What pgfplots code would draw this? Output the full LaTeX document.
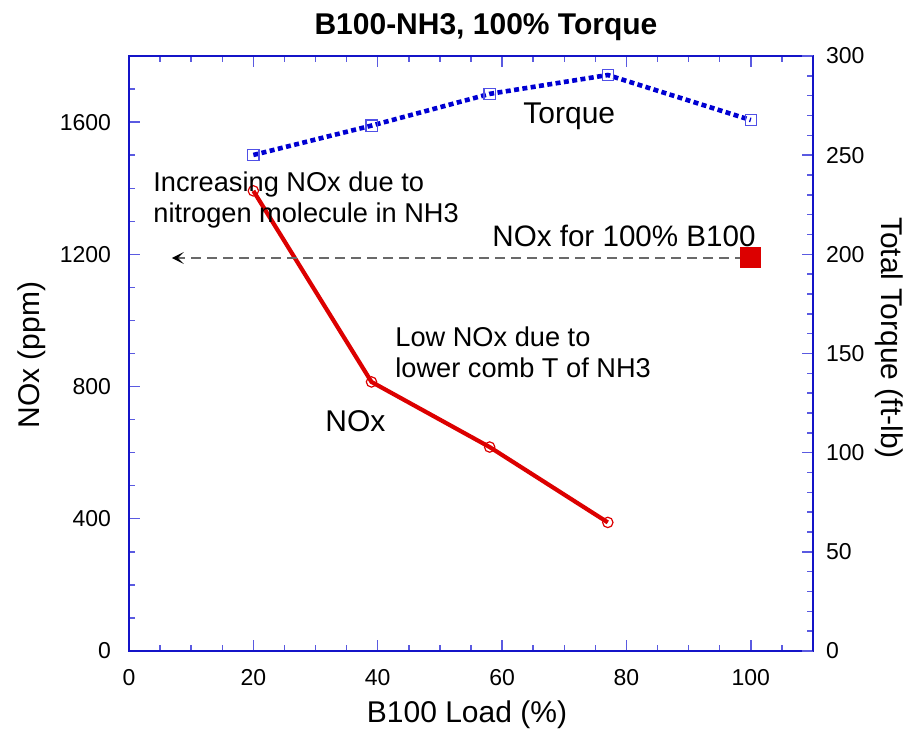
\documentclass[border=0pt]{standalone}
\usepackage{fontspec}
\setmainfont{Liberation Sans}
\usepackage{pgfplots}
\pgfplotsset{compat=1.18}
\usetikzlibrary{arrows.meta}

\definecolor{axisblue}{RGB}{20,20,200}
\definecolor{tickblue}{RGB}{90,90,225}
\definecolor{torqueblue}{RGB}{0,0,210}
\definecolor{markblue}{RGB}{80,80,230}
\definecolor{noxred}{RGB}{220,0,0}
\definecolor{arrowgray}{RGB}{105,105,105}

\pgfplotsset{
  base/.style={
    width=342pt, height=297.5pt, scale only axis,
    xmin=0, xmax=110,
    axis line style={axisblue, line width=0.7pt},
    tick align=inside,
    major tick length=5.5pt, minor tick length=2.8pt,
    tick style={tickblue, line width=0.7pt},
    ticklabel style={font=\fontsize{11.5}{13}\selectfont, text=black},
    /pgf/number format/assume math mode=true,
    /pgf/number format/1000 sep={},
    clip=false,
  }
}

\begin{document}
\begin{tikzpicture}
\useasboundingbox (-64.5pt,-38.5pt) rectangle (387.5pt,325.5pt);

% NOx, left axis
\begin{axis}[base,
  ymin=0, ymax=1800,
  xtick={0,20,...,100}, minor xtick={0,5,...,110},
  ytick={0,400,...,1600}, minor ytick={0,100,...,1800},
  xtick pos=both, ytick pos=left,
  xticklabel style={yshift=-5.5pt},
  yticklabel style={xshift=-5.5pt},
]
\addplot[noxred, line width=2.1pt, mark=o, mark size=2.6pt,
  mark options={line width=0.6pt}] coordinates {
  (20,1392) (39,814) (58,617) (77,389)
};
\addplot[noxred, only marks, mark=square*, mark size=5pt] coordinates {
  (100,1192)
};
\draw[arrowgray, line width=0.8pt, dash pattern=on 5pt off 3pt,
  -{Stealth[black, length=6pt, width=6pt, inset=3pt]}]
  (axis cs:99,1189) -- (axis cs:6.9,1189);
\end{axis}

% torque, right axis
\begin{axis}[base,
  ymin=0, ymax=300,
  hide x axis, axis y line*=right,
  ytick={0,50,...,300}, minor ytick={0,10,...,300},
  yticklabel style={xshift=3pt},
]
\addplot[torqueblue, line width=2.3pt, dash pattern=on 2.5pt off 1.7pt,
  mark=square, mark size=2.8pt,
  mark options={solid, markblue, line width=0.6pt}] coordinates {
  (20,250.1) (39,264.9) (58,280.9) (77,290.4) (100,267.7)
};
\end{axis}

% texts, placed in pixel units of the reference
\begin{scope}[x=0.5pt, y=-0.5pt, shift={(-64.5pt,325.5pt)},
  every node/.style={inner sep=0pt}]
\node[anchor=base, font=\bfseries\fontsize{15}{18}\selectfont] at (486,35) {B100-NH3, 100\% Torque};
\node[anchor=base, font=\fontsize{15}{18}\selectfont] at (467,722) {B100 Load (\%)};
\node[anchor=base, rotate=90, font=\fontsize{15}{18}\selectfont] at (40,355) {NOx (ppm)};
\node[anchor=base, rotate=-90, font=\fontsize{15}{18}\selectfont] at (881,338) {Total Torque (ft-lb)};

\node[anchor=base west, font=\fontsize{13.6}{16}\selectfont] at (153,192) {Increasing NOx due to};
\node[anchor=base west, font=\fontsize{13.6}{16}\selectfont] at (153,223) {nitrogen molecule in NH3};
\node[anchor=base west, font=\fontsize{13.6}{16}\selectfont] at (395,347) {Low NOx due to};
\node[anchor=base west, font=\fontsize{13.6}{16}\selectfont] at (395,378) {lower comb T of NH3};
\node[anchor=base west, font=\fontsize{14.8}{18}\selectfont] at (492,247) {NOx for 100\% B100};
\node[anchor=base west, font=\fontsize{15}{18}\selectfont] at (523,124) {Torque};
\node[anchor=base west, font=\fontsize{15}{18}\selectfont] at (325,432) {NOx};
\end{scope}
\end{tikzpicture}
\end{document}
